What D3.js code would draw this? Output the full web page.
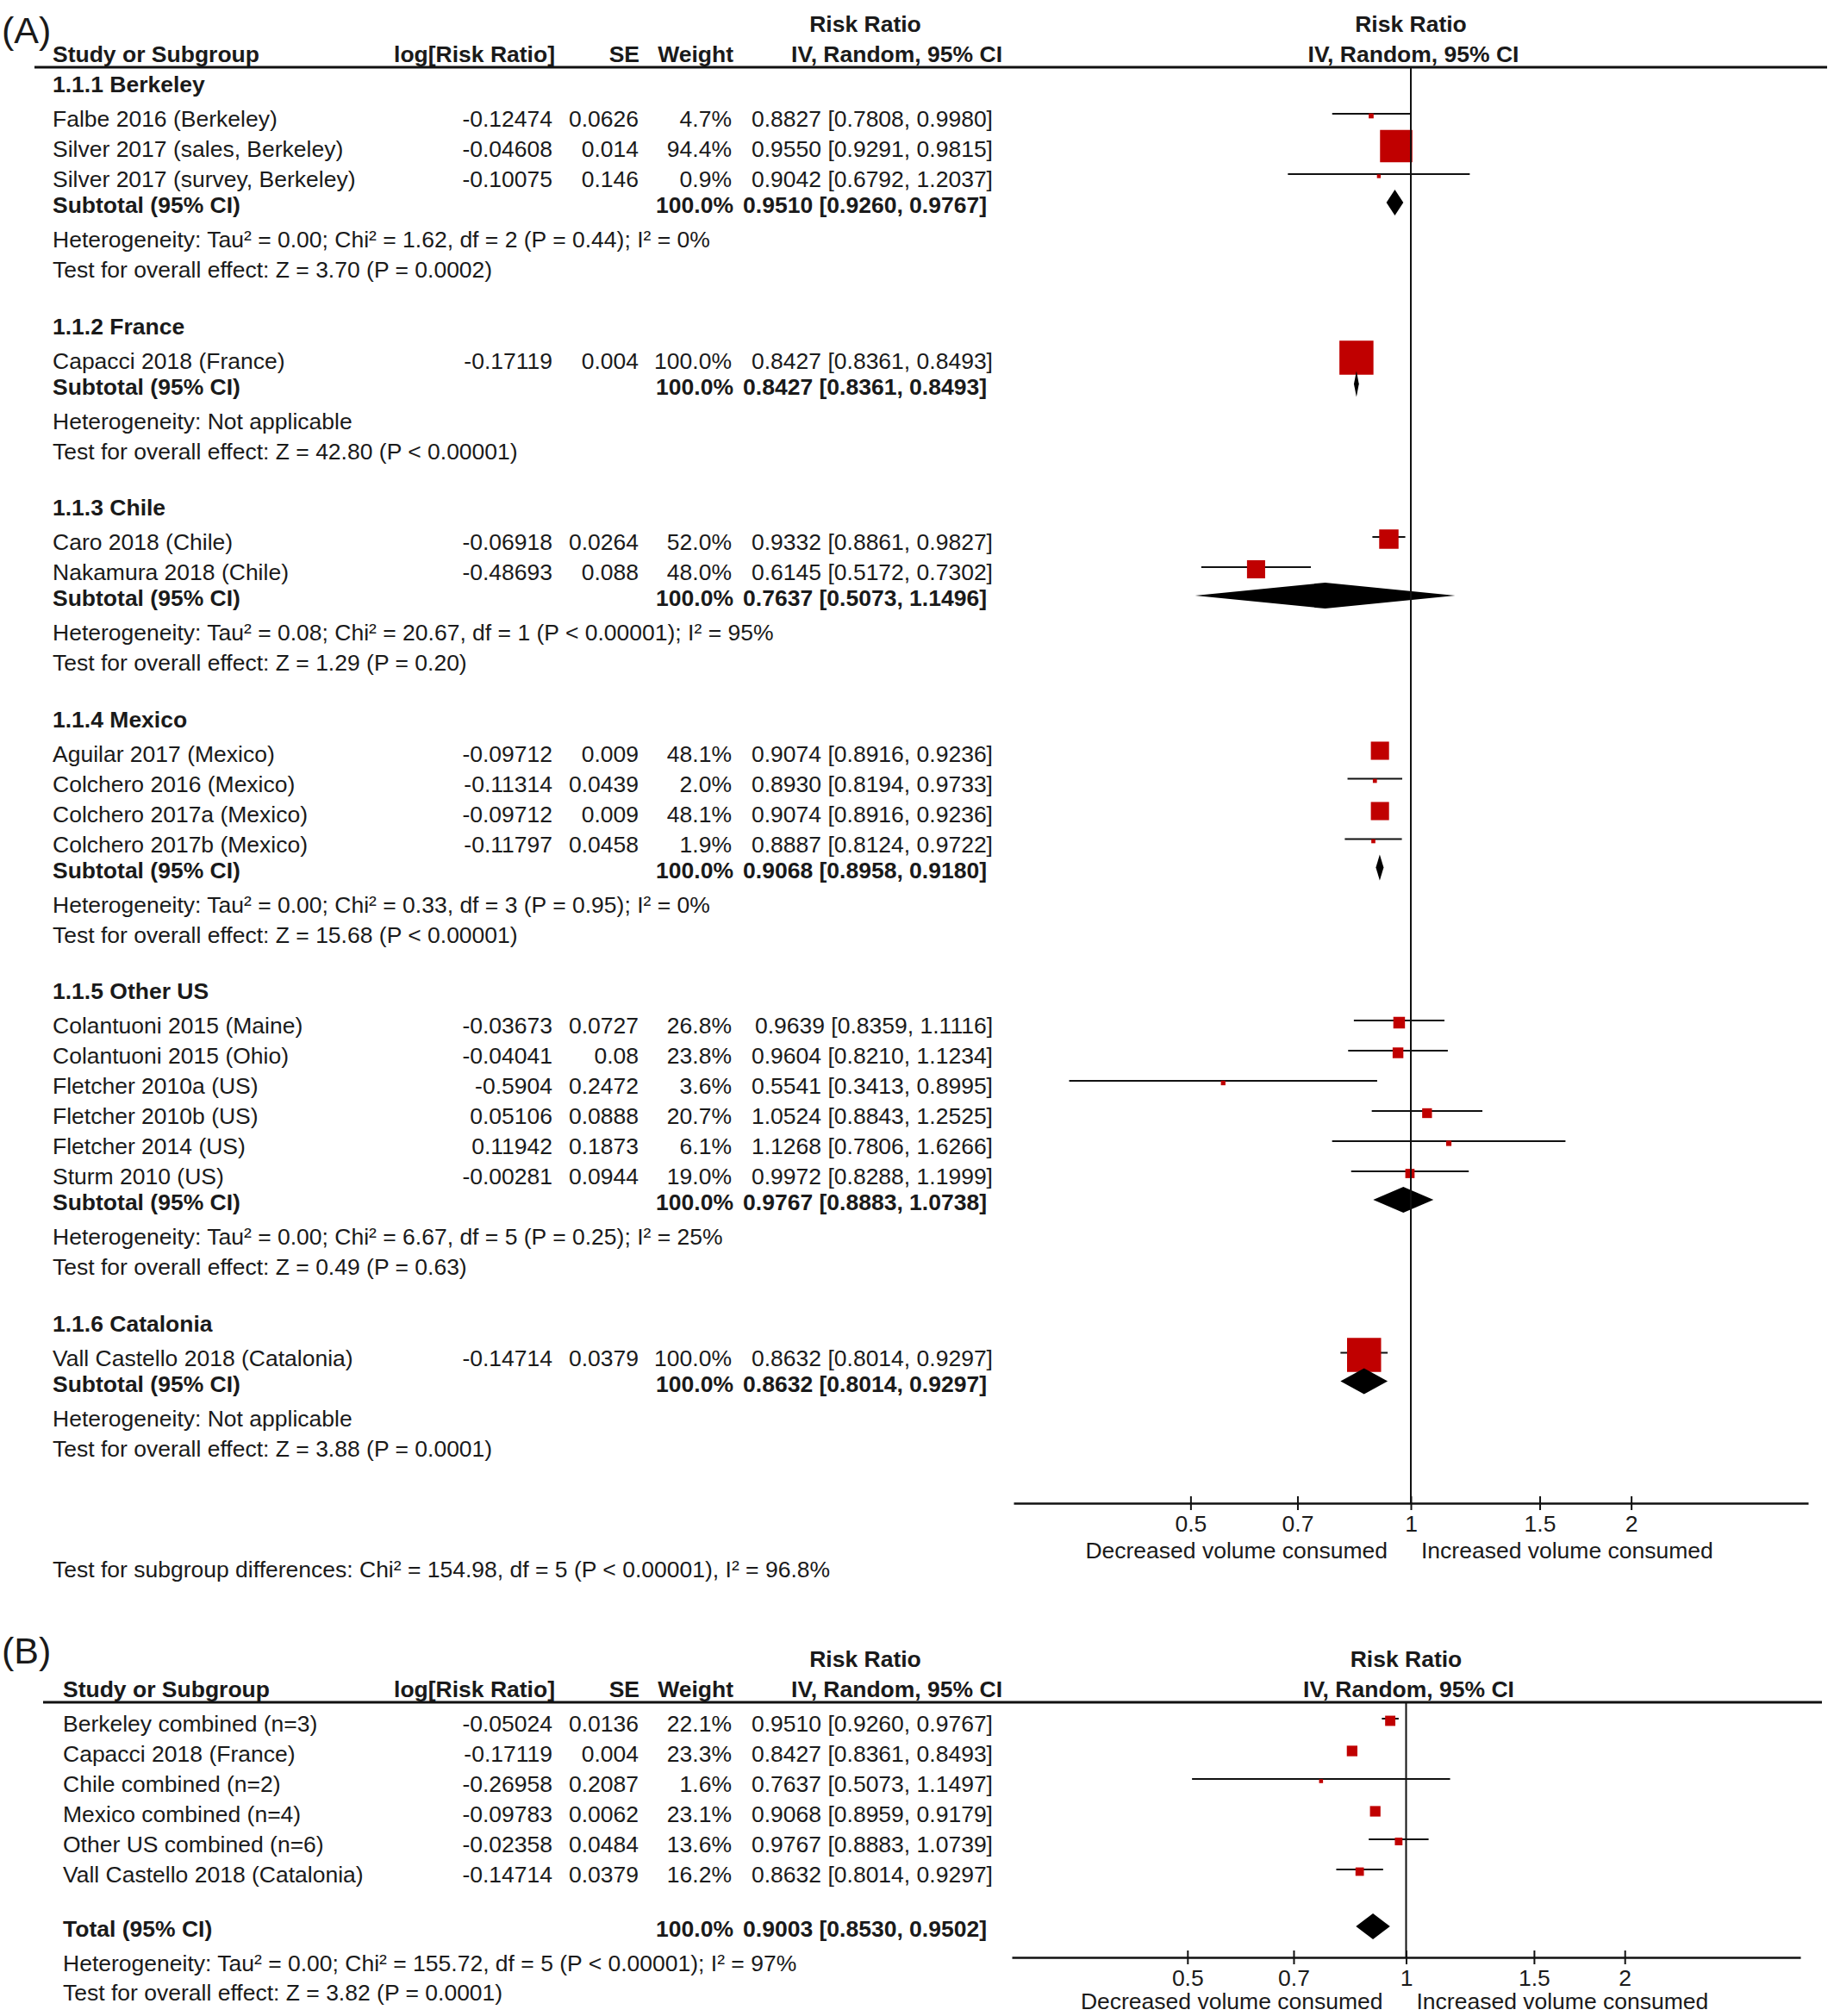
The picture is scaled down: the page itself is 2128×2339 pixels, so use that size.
<!DOCTYPE html>
<html>
<head>
<meta charset="utf-8">
<script src="https://cdn.jsdelivr.net/npm/d3@7"></script>
<style>
  body { margin: 0; background: #fff; }
  svg text { font-family: "Liberation Sans", Arial, sans-serif; fill: #1a1a1a; }
</style>
</head>
<body>
<svg id="chart"></svg>
<script>
// ---- panel A data ----
const groupNames = ["1.1.1 Berkeley", "1.1.2 France", "1.1.3 Chile", "1.1.4 Mexico", "1.1.5 Other US", "1.1.6 Catalonia"];
const studyNames = [
	"Falbe 2016 (Berkeley)", "Silver 2017 (sales, Berkeley)", "Silver 2017 (survey, Berkeley)",
	"Capacci 2018 (France)",
	"Caro 2018 (Chile)", "Nakamura 2018 (Chile)",
	"Aguilar 2017 (Mexico)", "Colchero 2016 (Mexico)", "Colchero 2017a (Mexico)", "Colchero 2017b (Mexico)",
	"Colantuoni 2015 (Maine)", "Colantuoni 2015 (Ohio)", "Fletcher 2010a (US)", "Fletcher 2010b (US)", "Fletcher 2014 (US)", "Sturm 2010 (US)",
	"Vall Castello 2018 (Catalonia)"
];
const studyGroup = [0, 0, 0, 1, 2, 2, 3, 3, 3, 3, 4, 4, 4, 4, 4, 4, 5];
const logRR = ["-0.12474", "-0.04608", "-0.10075", "-0.17119", "-0.06918", "-0.48693", "-0.09712", "-0.11314", "-0.09712", "-0.11797",
	"-0.03673", "-0.04041", "-0.5904", "0.05106", "0.11942", "-0.00281", "-0.14714"];
const seVals = ["0.0626", "0.014", "0.146", "0.004", "0.0264", "0.088", "0.009", "0.0439", "0.009", "0.0458",
	"0.0727", "0.08", "0.2472", "0.0888", "0.1873", "0.0944", "0.0379"];
const weights = [4.7, 94.4, 0.9, 100.0, 52.0, 48.0, 48.1, 2.0, 48.1, 1.9, 26.8, 23.8, 3.6, 20.7, 6.1, 19.0, 100.0];
const rr = [0.8827, 0.9550, 0.9042, 0.8427, 0.9332, 0.6145, 0.9074, 0.8930, 0.9074, 0.8887, 0.9639, 0.9604, 0.5541, 1.0524, 1.1268, 0.9972, 0.8632];
const lo = [0.7808, 0.9291, 0.6792, 0.8361, 0.8861, 0.5172, 0.8916, 0.8194, 0.8916, 0.8124, 0.8359, 0.8210, 0.3413, 0.8843, 0.7806, 0.8288, 0.8014];
const hi = [0.9980, 0.9815, 1.2037, 0.8493, 0.9827, 0.7302, 0.9236, 0.9733, 0.9236, 0.9722, 1.1116, 1.1234, 0.8995, 1.2525, 1.6266, 1.1999, 0.9297];

const subRR = [0.9510, 0.8427, 0.7637, 0.9068, 0.9767, 0.8632];
const subLo = [0.9260, 0.8361, 0.5073, 0.8958, 0.8883, 0.8014];
const subHi = [0.9767, 0.8493, 1.1496, 0.9180, 1.0738, 0.9297];
const hetText = [
	"Heterogeneity: Tau² = 0.00; Chi² = 1.62, df = 2 (P = 0.44); I² = 0%",
	"Heterogeneity: Not applicable",
	"Heterogeneity: Tau² = 0.08; Chi² = 20.67, df = 1 (P < 0.00001); I² = 95%",
	"Heterogeneity: Tau² = 0.00; Chi² = 0.33, df = 3 (P = 0.95); I² = 0%",
	"Heterogeneity: Tau² = 0.00; Chi² = 6.67, df = 5 (P = 0.25); I² = 25%",
	"Heterogeneity: Not applicable"
];
const effectText = [
	"Test for overall effect: Z = 3.70 (P = 0.0002)",
	"Test for overall effect: Z = 42.80 (P < 0.00001)",
	"Test for overall effect: Z = 1.29 (P = 0.20)",
	"Test for overall effect: Z = 15.68 (P < 0.00001)",
	"Test for overall effect: Z = 0.49 (P = 0.63)",
	"Test for overall effect: Z = 3.88 (P = 0.0001)"
];
const subgroupDiffText = "Test for subgroup differences: Chi² = 154.98, df = 5 (P < 0.00001), I² = 96.8%";

// ---- panel B data ----
const bNames = ["Berkeley combined (n=3)", "Capacci 2018 (France)", "Chile combined (n=2)", "Mexico combined (n=4)", "Other US combined (n=6)", "Vall Castello 2018 (Catalonia)"];
const bLogRR = ["-0.05024", "-0.17119", "-0.26958", "-0.09783", "-0.02358", "-0.14714"];
const bSE = ["0.0136", "0.004", "0.2087", "0.0062", "0.0484", "0.0379"];
const bWeights = [22.1, 23.3, 1.6, 23.1, 13.6, 16.2];
const bRR = [0.9510, 0.8427, 0.7637, 0.9068, 0.9767, 0.8632];
const bLo = [0.9260, 0.8361, 0.5073, 0.8959, 0.8883, 0.8014];
const bHi = [0.9767, 0.8493, 1.1497, 0.9179, 1.0739, 0.9297];
const totalRR = 0.9003, totalLo = 0.8530, totalHi = 0.9502;
const totalHet = "Heterogeneity: Tau² = 0.00; Chi² = 155.72, df = 5 (P < 0.00001); I² = 97%";
const totalEffect = "Test for overall effect: Z = 3.82 (P = 0.0001)";

const ticks = [0.5, 0.7, 1, 1.5, 2];
const axisDomain = [Math.exp(-1.25), Math.exp(1.25)];

// ---- drawing ----
const W = 2128, H = 2339;
const svg = d3.select("#chart").attr("width", W).attr("height", H);
const FS = 26.5;
const RED = "#c00000";
const fmt4 = d3.format(".4f");
const ci = (m, l, h) => `${fmt4(m)} [${fmt4(l)}, ${fmt4(h)}]`;
const pct = (w) => d3.format(".1f")(w) + "%";
const boxSide = (w) => 4 + 0.355 * w;

function txt(g, x, y, s, opt = {}) {
	return g.append("text")
		.attr("x", x).attr("y", y).attr("dy", "0.35em")
		.attr("font-size", opt.size || FS)
		.attr("font-weight", opt.bold ? "bold" : null)
		.attr("text-anchor", opt.anchor || "start")
		.text(s);
}

// columns (right edges)
const colLog = 641, colSE = 741, colW = 849, colCI = 1152;

function header(g, y1, y2, nameX, x1, lineX0, lineX1) {
	txt(g, 1004, y1, "Risk Ratio", { bold: true, anchor: "middle" });
	txt(g, x1(1), y1, "Risk Ratio", { bold: true, anchor: "middle" });
	txt(g, nameX, y2, "Study or Subgroup", { bold: true });
	txt(g, colLog + 3, y2, "log[Risk Ratio]", { bold: true, anchor: "end" });
	txt(g, colSE + 1, y2, "SE", { bold: true, anchor: "end" });
	txt(g, colW + 2, y2, "Weight", { bold: true, anchor: "end" });
	txt(g, 1163, y2, "IV, Random, 95% CI", { bold: true, anchor: "end" });
	txt(g, x1(1) + 3, y2, "IV, Random, 95% CI", { bold: true, anchor: "middle" });
	g.append("line").attr("x1", lineX0).attr("x2", lineX1).attr("y1", y2 + 15).attr("y2", y2 + 15)
		.attr("stroke", "#111").attr("stroke-width", 2.8);
}

function study(g, x, yc, m, l, h, w) {
	g.append("line").attr("x1", x(l)).attr("x2", x(h)).attr("y1", yc - 6).attr("y2", yc - 6)
		.attr("stroke", "#111").attr("stroke-width", 2);
	const s = boxSide(w);
	g.append("rect").attr("x", x(m) - s / 2).attr("y", yc - 3.5 - s / 2)
		.attr("width", s).attr("height", s).attr("fill", RED);
}

function diamond(g, x, yc, m, l, h) {
	const c = yc - 3;
	g.append("path")
		.attr("d", d3.line()([[x(l), c], [x(m), c - 15], [x(h), c], [x(m), c + 15]]) + "Z")
		.attr("fill", "#000");
}

function axis(g, x, yAxis, yTop, labelOff) {
	g.append("line").attr("x1", x(1)).attr("x2", x(1)).attr("y1", yTop).attr("y2", yAxis)
		.attr("stroke", "#111").attr("stroke-width", 2);
	const ax = g.append("g").attr("transform", `translate(0,${yAxis})`)
		.call(d3.axisBottom(x).tickValues(ticks).tickFormat(d3.format("")).tickSize(8).tickSizeOuter(0));
	ax.select(".domain").attr("stroke", "#111").attr("stroke-width", 2.5);
	ax.selectAll(".tick line").attr("y1", -8).attr("stroke", "#111").attr("stroke-width", 2);
	ax.selectAll(".tick text").attr("y", 24).attr("dy", "0.35em")
		.attr("font-size", FS).attr("font-family", null).attr("fill", "#1a1a1a");
	txt(g, x(1) - 27, yAxis + labelOff, "Decreased volume consumed", { anchor: "end" });
	txt(g, x(1) + 12, yAxis + labelOff, "Increased volume consumed");
}

// ---- panel A ----
const gA = svg.append("g");
const xA = d3.scaleLog().domain(axisDomain).range([1176, 2098]);
gA.append("text").attr("x", 2).attr("y", 50).attr("font-size", 43).text("(A)");
header(gA, 28, 63, 61, xA, 40, 2120);

let y = 98;
groupNames.forEach((gName, gi) => {
	txt(gA, 61, y, gName, { bold: true });
	y += 40;
	const idx = d3.range(studyNames.length).filter((i) => studyGroup[i] === gi);
	idx.forEach((i, k) => {
		if (k > 0) y += 35;
		txt(gA, 61, y, studyNames[i]);
		txt(gA, colLog, y, logRR[i], { anchor: "end" });
		txt(gA, colSE, y, seVals[i], { anchor: "end" });
		txt(gA, colW, y, pct(weights[i]), { anchor: "end" });
		txt(gA, colCI, y, ci(rr[i], lo[i], hi[i]), { anchor: "end" });
		study(gA, xA, y, rr[i], lo[i], hi[i], weights[i]);
	});
	y += 30;
	txt(gA, 61, y, "Subtotal (95% CI)", { bold: true });
	txt(gA, colW + 2, y, "100.0%", { bold: true, anchor: "end" });
	txt(gA, colCI - 7, y, ci(subRR[gi], subLo[gi], subHi[gi]), { bold: true, anchor: "end" });
	diamond(gA, xA, y, subRR[gi], subLo[gi], subHi[gi]);
	y += 40;
	txt(gA, 61, y, hetText[gi]);
	y += 35;
	txt(gA, 61, y, effectText[gi]);
	y += 65.5;
});

axis(gA, xA, 1744, 78, 55);
txt(gA, 61, 1821, subgroupDiffText);

// ---- panel B ----
const gB = svg.append("g");
const xB = d3.scaleLog().domain(axisDomain).range([1174, 2089]);
gB.append("text").attr("x", 2).attr("y", 1930).attr("font-size", 43).text("(B)");
header(gB, 1925, 1960, 73, xB, 50, 2114);

bNames.forEach((n, i) => {
	const yy = 2000 + i * 35;
	txt(gB, 73, yy, n);
	txt(gB, colLog, yy, bLogRR[i], { anchor: "end" });
	txt(gB, colSE, yy, bSE[i], { anchor: "end" });
	txt(gB, colW, yy, pct(bWeights[i]), { anchor: "end" });
	txt(gB, colCI, yy, ci(bRR[i], bLo[i], bHi[i]), { anchor: "end" });
	study(gB, xB, yy, bRR[i], bLo[i], bHi[i], bWeights[i]);
});
txt(gB, 73, 2238, "Total (95% CI)", { bold: true });
txt(gB, colW + 2, 2238, "100.0%", { bold: true, anchor: "end" });
txt(gB, colCI - 7, 2238, ci(totalRR, totalLo, totalHi), { bold: true, anchor: "end" });
diamond(gB, xB, 2238, totalRR, totalLo, totalHi);
txt(gB, 73, 2278, totalHet);
txt(gB, 73, 2312, totalEffect);
axis(gB, xB, 2271, 1975, 51);
</script>
</body>
</html>
